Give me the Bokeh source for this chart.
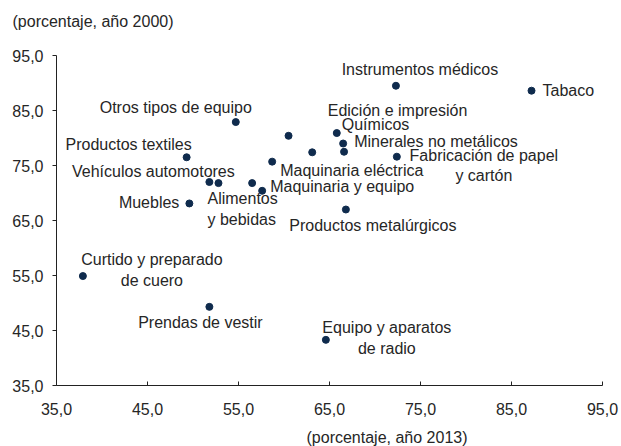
from bokeh.plotting import figure
from bokeh.models import FixedTicker, Title, ColumnDataSource, Range1d
from bokeh.core.properties import value
from bokeh.embed import file_html
from bokeh.resources import INLINE

# ---------------- data ----------------
sectors = [
    "Instrumentos médicos", "Tabaco", "Otros tipos de equipo", "Edición e impresión",
    "Químicos", "Minerales no metálicos", "", "", "Fabricación de papel\ny cartón",
    "Productos textiles", "Maquinaria eléctrica", "Vehículos automotores",
    "Alimentos\ny bebidas", "", "Maquinaria y equipo", "Muebles",
    "Productos metalúrgicos", "Curtido y preparado\nde cuero", "Prendas de vestir",
    "Equipo y aparatos\nde radio",
]
x_2013 = [72.3, 87.2, 54.7, 60.5, 65.8, 66.5, 66.6, 63.1, 72.4, 49.3,
          58.7, 51.8, 52.8, 56.5, 57.6, 49.6, 66.8, 37.9, 51.8, 64.6]
y_2000 = [89.5, 88.6, 82.9, 80.4, 80.9, 79.0, 77.5, 77.4, 76.6, 76.5,
          75.7, 72.0, 71.8, 71.8, 70.4, 68.1, 67.0, 54.9, 49.3, 43.3]

tick_values = [35, 45, 55, 65, 75, 85, 95]
tick_labels = ["35,0", "45,0", "55,0", "65,0", "75,0", "85,0", "95,0"]
x_title = "(porcentaje, año 2013)"
y_title = "(porcentaje, año 2000)"

# ---------------- label layout (screen px offsets from each point) ----------------
label_dx = [24, 11, -60, 109, 5, 11, 0, 0, 87, -58, 8, -56, -11, 0, 8, -10, 27, 69, -9, 61]
label_dy = [-16, 0, -15, -25, -9, -2, 0, 0, 9, -13, 9, -11, 26, 0, -4, -1, 16, -6, 16, -2]
label_align = ["center", "left", "center", "center", "left", "left", "left", "left",
               "center", "center", "left", "center", "left", "left", "left", "right",
               "center", "center", "center", "center"]

FONT = "Liberation Sans"
TXT = "#262626"
DOT = "#0f2b4d"

lo, hi = tick_values[0], tick_values[-1]

p = figure(width=621, height=446, output_backend="svg", toolbar_location=None,
           x_range=Range1d(lo, hi), y_range=Range1d(lo, hi),
           min_border_left=56, min_border_right=19, min_border_top=55,
           min_border_bottom=61, title=y_title)

HAS_PAD = "padding" in Title.properties()


def set_pad(t, top=0, bottom=0):
    t.padding = dict(left=0, right=0, top=top, bottom=bottom)


p.title.align = "left"
p.title.offset = -44
p.title.text_font = FONT
p.title.text_font_size = "16px"
p.title.text_font_style = "normal"
p.title.text_color = TXT
p.title.vertical_align = "bottom"
if HAS_PAD:
    p.title.standoff = 0
    set_pad(p.title, bottom=26)
else:
    p.title.standoff = 36

bt = Title(text=x_title, align="left", offset=250, text_font=FONT,
           text_font_size="16px", text_font_style="normal", text_color=TXT,
           vertical_align="bottom")
if HAS_PAD:
    bt.standoff = 0
    set_pad(bt, top=9)
else:
    bt.standoff = 7
p.add_layout(bt, "below")

p.outline_line_color = None
p.xgrid.visible = False
p.ygrid.visible = False

for ax in (p.xaxis[0], p.yaxis[0]):
    ax.ticker = FixedTicker(ticks=tick_values)
    ax.major_label_overrides = dict(zip(tick_values, tick_labels))
    ax.major_label_text_font = FONT
    ax.major_label_text_font_size = "16px"
    ax.major_label_text_color = TXT
    ax.axis_line_color = "#222222"
    ax.major_tick_line_color = "#222222"
    ax.minor_tick_line_color = None

p.xaxis.major_tick_in = 4
p.xaxis.major_tick_out = 0
p.xaxis.major_label_standoff = 17
p.yaxis.major_tick_in = 0
p.yaxis.major_tick_out = 4
p.yaxis.major_label_standoff = 9

src = ColumnDataSource(dict(x=x_2013, y=y_2000, name=sectors,
                            dx=label_dx, dy=label_dy, align=label_align))
p.scatter("x", "y", source=src, size=7, fill_color=DOT, line_color=DOT)
p.text("x", "y", text="name", source=src, x_offset="dx", y_offset="dy",
       text_align="align", text_baseline="middle", text_font=value(FONT),
       text_font_size="16px", text_color=TXT, text_line_height=1.2)

open("out.html", "w").write(file_html(p, INLINE))
